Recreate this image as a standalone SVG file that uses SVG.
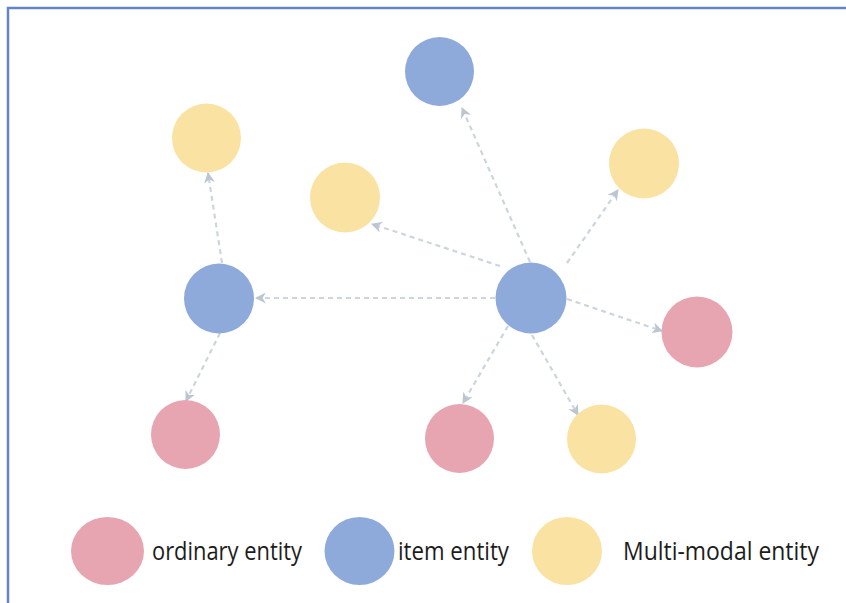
<svg xmlns="http://www.w3.org/2000/svg" width="846" height="603" viewBox="0 0 846 603">
<defs>
<style>
.frame{fill:none;stroke:#6385c4;stroke-width:2.5}
.edge{fill:none;stroke:#cdd5dd;stroke-width:2.2;stroke-dasharray:5 4}
.blue{fill:#8eaadb}
.pink{fill:#e6a5b1}
.yellow{fill:#f9e2a2}
.lbl{font-family:"Open Sans","Noto Sans","Liberation Sans",sans-serif;font-size:26px;fill:#1c1c1c}
</style>
<marker id="arr" viewBox="0 0 10 10" refX="9" refY="5" markerWidth="11" markerHeight="11" markerUnits="userSpaceOnUse" orient="auto">
<path d="M0,0 L10,5 L0,10 L3,5 z" fill="#bcc6d1"/>
</marker>
</defs>
<rect width="846" height="603" fill="#ffffff"/>
<path class="frame" d="M8,603 V8 H846"/>
<g id="connectors">
<line class="edge" x1="530" y1="262" x2="462" y2="108" marker-end="url(#arr)"/>
<line class="edge" x1="567" y1="263" x2="618" y2="190" marker-end="url(#arr)"/>
<line class="edge" x1="500" y1="266" x2="372" y2="224" marker-end="url(#arr)"/>
<line class="edge" x1="495" y1="298" x2="256" y2="298" marker-end="url(#arr)"/>
<line class="edge" x1="567" y1="299" x2="662" y2="331" marker-end="url(#arr)"/>
<line class="edge" x1="532" y1="335" x2="578" y2="415" marker-end="url(#arr)"/>
<line class="edge" x1="508" y1="326" x2="463" y2="403" marker-end="url(#arr)"/>
<line class="edge" x1="222" y1="263" x2="208" y2="173" marker-end="url(#arr)"/>
<line class="edge" x1="220" y1="333" x2="186" y2="401" marker-end="url(#arr)"/>
</g>
<g id="n-top-item"><circle class="blue" cx="439.5" cy="71.5" r="34.5"/></g>
<g id="n-topleft-mm"><circle class="yellow" cx="206.5" cy="138" r="34.5"/></g>
<g id="n-topright-mm"><circle class="yellow" cx="644" cy="163.5" r="35"/></g>
<g id="n-mid-mm"><circle class="yellow" cx="345" cy="197.5" r="35"/></g>
<g id="n-left-item"><circle class="blue" cx="219" cy="298.5" r="35"/></g>
<g id="n-center-item"><circle class="blue" cx="531" cy="298" r="35.5"/></g>
<g id="n-right-ord"><circle class="pink" cx="697" cy="332" r="35.5"/></g>
<g id="n-bl-ord"><circle class="pink" cx="185.5" cy="434.5" r="34.5"/></g>
<g id="n-bm-ord"><circle class="pink" cx="459.5" cy="438.5" r="34.5"/></g>
<g id="n-bottom-mm"><circle class="yellow" cx="601.5" cy="439" r="34.5"/></g>
<g id="legend-ordinary">
<ellipse class="pink" cx="107.5" cy="551" rx="36.5" ry="34"/>
<text class="lbl" x="152" y="560" textLength="150" lengthAdjust="spacingAndGlyphs">ordinary entity</text>
</g>
<g id="legend-item">
<ellipse class="blue" cx="359.5" cy="551" rx="35" ry="34"/>
<text class="lbl" x="398" y="560" textLength="111" lengthAdjust="spacingAndGlyphs">item entity</text>
</g>
<g id="legend-mm">
<ellipse class="yellow" cx="567" cy="551" rx="35" ry="34"/>
<text class="lbl" x="623" y="560" textLength="196" lengthAdjust="spacingAndGlyphs">Multi-modal entity</text>
</g>
</svg>
